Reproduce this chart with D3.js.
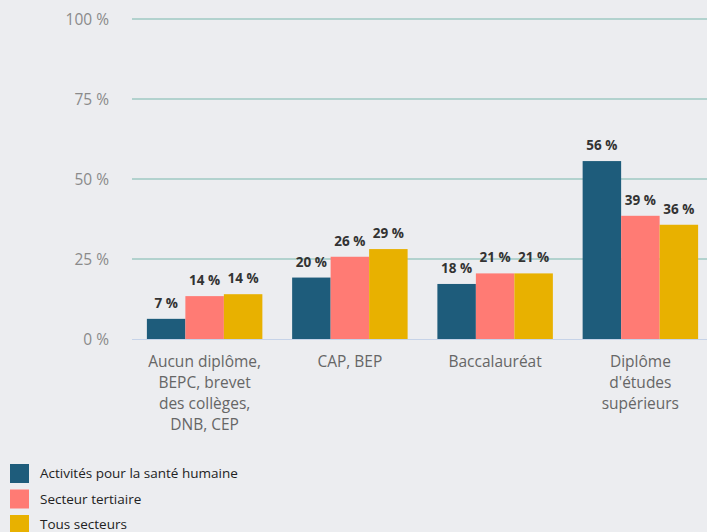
<!DOCTYPE html>
<html>
<head>
<meta charset="utf-8">
<script src="https://cdnjs.cloudflare.com/ajax/libs/d3/7.8.5/d3.min.js"></script>
<style>
  body { margin: 0; background: #ecedf0; }
  svg { display: block; font-family: "Open Sans", sans-serif; }
</style>
</head>
<body>
<script>
// niveaux de diplome
var categories = [
    ["Aucun diplôme,", "BEPC, brevet", "des collèges,", "DNB, CEP"],
    ["CAP, BEP"],
    ["Baccalauréat"],
    ["Diplôme", "d'études", "supérieurs"]
];
var series = ["Activités pour la santé humaine", "Secteur tertiaire", "Tous secteurs"];
var colors = ["#1e5c7b", "#ff7b74", "#e8b100"];

// one array per series (percent)
var sante = [6.3, 19.2, 17.2, 55.6];
var tertiaire = [13.4, 25.7, 20.5, 38.5];
var tous = [14.0, 28.1, 20.5, 35.7];
var values = [sante, tertiaire, tous];

// labels as printed above the bars
var santeLabels = ["7 %", "20 %", "18 %", "56 %"];
var tertiaireLabels = ["14 %", "26 %", "21 %", "39 %"];
var tousLabels = ["14 %", "29 %", "21 %", "36 %"];
var labels = [santeLabels, tertiaireLabels, tousLabels];

var ticks = [0, 25, 50, 75, 100];

var W = 707, H = 532;
var svg = d3.select("body").append("svg").attr("width", W).attr("height", H);

var y = d3.scaleLinear().domain([0, 100]).range([339, 19]);
var x0 = d3.scaleBand().domain(d3.range(categories.length)).range([132, 713]).paddingInner(0.205).paddingOuter(0.1025);
var x1 = d3.scaleBand().domain(d3.range(series.length)).range([0, x0.bandwidth()]);

// grid
svg.selectAll("line.grid")
    .data(ticks.filter(function(t){ return t > 0; }))
    .enter().append("line")
    .attr("x1", 132).attr("x2", W)
    .attr("y1", function(d){ return y(d); })
    .attr("y2", function(d){ return y(d); })
    .style("stroke", "#9fc8c3")
    .style("stroke-width", 1.3);

svg.selectAll("text.tick")
    .data(ticks)
    .enter().append("text")
    .attr("x", 109)
    .attr("y", function(d){ return y(d) + 5.5; })
    .attr("text-anchor", "end")
    .style("font-size", "15.5px")
    .style("fill", "#8a8a8a")
    .text(function(d){ return d + " %"; });

// bars
var groups = svg.selectAll("g.cat")
    .data(categories)
    .enter().append("g")
    .attr("transform", function(d, i){ return "translate(" + x0(i) + ",0)"; });

groups.each(function(c, ci){
    var g = d3.select(this);
    for (var s = 0; s < series.length; s++) {
        var v = values[s][ci];
        g.append("rect")
            .attr("x", x1(s))
            .attr("y", y(v))
            .attr("width", x1.bandwidth())
            .attr("height", y(0) - y(v))
            .style("fill", colors[s]);
        g.append("text")
            .attr("x", x1(s) + x1.bandwidth() / 2)
            .attr("y", y(v) - 11)
            .attr("text-anchor", "middle")
            .style("font-size", "13.5px")
            .style("font-weight", "bold")
            .style("fill", "#333")
            .text(labels[s][ci]);
    }
    var t = g.append("text")
        .attr("x", x0.bandwidth() / 2)
        .attr("y", 367)
        .attr("text-anchor", "middle")
        .style("font-size", "15.5px")
        .style("fill", "#666");
    c.forEach(function(line, li){
        t.append("tspan").attr("x", x0.bandwidth() / 2).attr("y", 367 + li * 21).text(line);
    });
});

// zero axis
svg.append("line")
    .attr("x1", 132).attr("x2", W)
    .attr("y1", y(0) + 0.5).attr("y2", y(0) + 0.5)
    .style("stroke", "#c6d3e8")
    .style("stroke-width", 1);

// legend
var legend = svg.selectAll("g.legend")
    .data(series)
    .enter().append("g")
    .attr("transform", function(d, i){ return "translate(10," + (464 + i * 25.5) + ")"; });
legend.append("rect")
    .attr("width", 19).attr("height", 19)
    .style("fill", function(d, i){ return colors[i]; });
legend.append("text")
    .attr("x", 30).attr("y", 14)
    .style("font-size", "13.5px")
    .style("fill", "#222")
    .text(function(d){ return d; });
</script>
</body>
</html>
